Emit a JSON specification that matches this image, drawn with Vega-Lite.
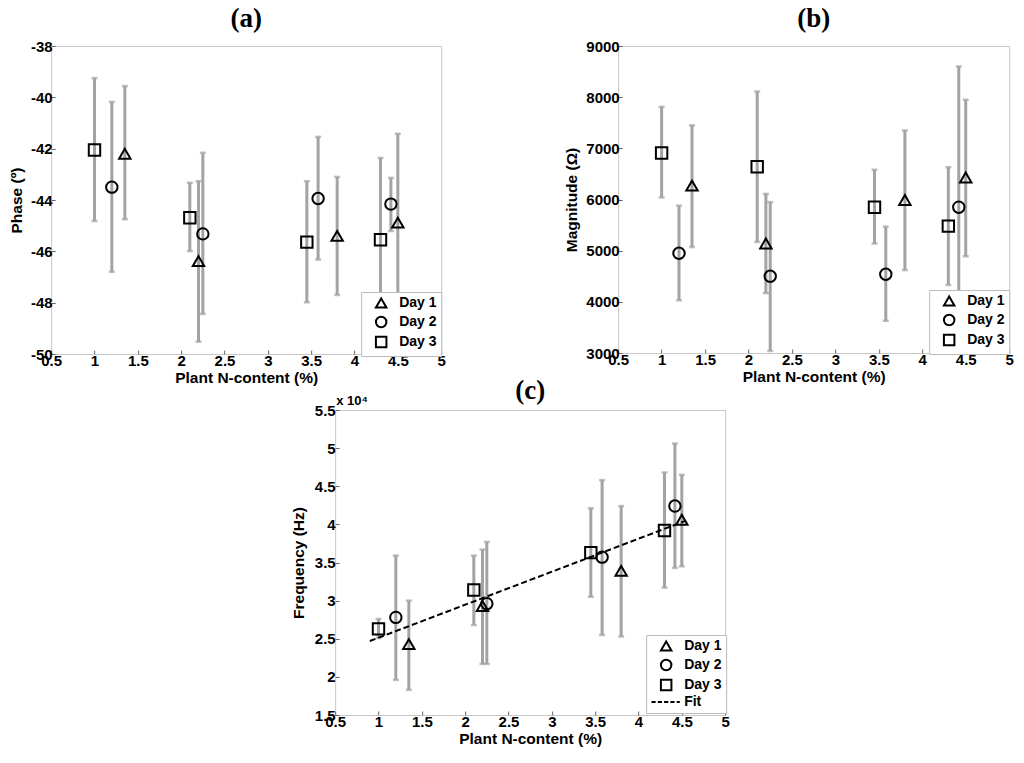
{
  "$schema": "https://vega.github.io/schema/vega-lite/v6.json",
  "background": "white",
  "padding": {"left": 8, "top": 4, "right": 5, "bottom": 5},
  "datasets": {
    "phase": [
      {"day": "Day 3", "n": 1.0, "v": -42.05, "lo": -44.82, "hi": -39.25},
      {"day": "Day 3", "n": 2.1, "v": -44.69, "lo": -45.99, "hi": -43.33},
      {"day": "Day 3", "n": 3.45, "v": -45.64, "lo": -47.98, "hi": -43.27},
      {"day": "Day 3", "n": 4.3, "v": -45.55, "lo": -48.74, "hi": -42.36},
      {"day": "Day 2", "n": 1.2, "v": -43.5, "lo": -46.8, "hi": -40.18},
      {"day": "Day 2", "n": 2.25, "v": -45.32, "lo": -48.44, "hi": -42.16},
      {"day": "Day 2", "n": 3.58, "v": -43.94, "lo": -46.32, "hi": -41.54},
      {"day": "Day 2", "n": 4.42, "v": -44.16, "lo": -45.21, "hi": -43.14},
      {"day": "Day 1", "n": 1.35, "v": -42.2, "lo": -44.75, "hi": -39.56},
      {"day": "Day 1", "n": 2.2, "v": -46.38, "lo": -49.52, "hi": -43.27},
      {"day": "Day 1", "n": 3.8, "v": -45.4, "lo": -47.7, "hi": -43.1},
      {"day": "Day 1", "n": 4.5, "v": -44.88, "lo": -48.34, "hi": -41.42}
    ],
    "magnitude": [
      {"day": "Day 3", "n": 1.0, "v": 6910, "lo": 6040, "hi": 7810},
      {"day": "Day 3", "n": 2.1, "v": 6640, "lo": 5170, "hi": 8110},
      {"day": "Day 3", "n": 3.45, "v": 5850, "lo": 5140, "hi": 6580},
      {"day": "Day 3", "n": 4.3, "v": 5480, "lo": 4330, "hi": 6630},
      {"day": "Day 2", "n": 1.2, "v": 4950, "lo": 4030, "hi": 5880},
      {"day": "Day 2", "n": 2.25, "v": 4500, "lo": 3040, "hi": 5950},
      {"day": "Day 2", "n": 3.58, "v": 4540, "lo": 3630, "hi": 5470},
      {"day": "Day 2", "n": 4.42, "v": 5850, "lo": 3100, "hi": 8600},
      {"day": "Day 1", "n": 1.35, "v": 6270, "lo": 5070, "hi": 7450},
      {"day": "Day 1", "n": 2.2, "v": 5140, "lo": 4170, "hi": 6110},
      {"day": "Day 1", "n": 3.8, "v": 5990, "lo": 4620, "hi": 7350},
      {"day": "Day 1", "n": 4.5, "v": 6430, "lo": 4890, "hi": 7950}
    ],
    "frequency": [
      {"day": "Day 3", "n": 1.0, "v": 26300, "lo": 25100, "hi": 27600},
      {"day": "Day 3", "n": 2.1, "v": 31400, "lo": 26800, "hi": 35900},
      {"day": "Day 3", "n": 3.45, "v": 36300, "lo": 30500, "hi": 42100},
      {"day": "Day 3", "n": 4.3, "v": 39200, "lo": 31700, "hi": 46800},
      {"day": "Day 2", "n": 1.2, "v": 27800, "lo": 19600, "hi": 35900},
      {"day": "Day 2", "n": 2.25, "v": 29600, "lo": 21700, "hi": 37700},
      {"day": "Day 2", "n": 3.58, "v": 35700, "lo": 25500, "hi": 45800},
      {"day": "Day 2", "n": 4.42, "v": 42400, "lo": 34300, "hi": 50600},
      {"day": "Day 1", "n": 1.35, "v": 24300, "lo": 18300, "hi": 30000},
      {"day": "Day 1", "n": 2.2, "v": 29300, "lo": 21700, "hi": 36700},
      {"day": "Day 1", "n": 3.8, "v": 33900, "lo": 25300, "hi": 42400},
      {"day": "Day 1", "n": 4.5, "v": 40600, "lo": 34500, "hi": 46500}
    ],
    "fit": [
      {"n": 0.9, "v": 24700},
      {"n": 4.55, "v": 40500}
    ],
    "note": [
      {"label": "x 10⁴", "n": 0.5, "v": 55000}
    ]
  },
  "config": {
    "view": {"stroke": "#c8c8c8", "strokeWidth": 1},
    "axis": {
      "grid": false,
      "domain": false,
      "tickSize": -4,
      "tickColor": "#666",
      "tickWidth": 1,
      "labelFont": "Liberation Sans",
      "labelFontWeight": "bold",
      "labelFontSize": 15,
      "labelColor": "black",
      "labelPadding": 3,
      "labelFlush": false,
      "labelOverlap": false,
      "labelExpr": "replace(format(datum.value, '~g'), '−', '-')",
      "titleFont": "Liberation Sans",
      "titleFontWeight": "bold",
      "titleFontSize": 15.5,
      "titleColor": "black"
    },
    "legend": {
      "orient": "none",
      "fillColor": "white",
      "strokeColor": "#bbbbbb",
      "padding": 4,
      "labelFont": "Liberation Sans",
      "labelFontWeight": "bold",
      "labelFontSize": 14,
      "labelColor": "black",
      "labelOffset": 11,
      "rowPadding": 0,
      "symbolSize": 110,
      "symbolStrokeColor": "black",
      "symbolStrokeWidth": 2,
      "symbolFillColor": "transparent",
      "symbolOffset": 9
    },
    "title": {
      "font": "Liberation Serif",
      "fontSize": 27,
      "fontWeight": "bold",
      "color": "black",
      "anchor": "middle",
      "offset": 6
    }
  },
  "vconcat": [
    {
      "hconcat": [
        {
          "title": "(a)",
          "width": 390,
          "height": 308,
          "data": {"name": "phase"},
          "encoding": {
            "x": {"field": "n", "type": "quantitative", "title": "Plant N-content (%)",
              "scale": {"domain": [0.5, 5], "nice": false},
              "axis": {"values": [0.5, 1, 1.5, 2, 2.5, 3, 3.5, 4, 4.5, 5], "titlePadding": 2}},
            "y": {"field": "lo", "type": "quantitative", "title": "Phase (º)",
              "scale": {"domain": [-50, -38], "nice": false},
              "axis": {"values": [-50, -48, -46, -44, -42, -40, -38], "titlePadding": 6}}
          },
          "layer": [
            {
              "mark": {"type": "rule", "color": "#a3a3a3", "strokeWidth": 3},
              "encoding": {"y2": {"field": "hi"}}
            },
            {
              "mark": {"type": "tick", "orient": "horizontal", "color": "#a3a3a3", "size": 6, "thickness": 2.5},
              "encoding": {}
            },
            {
              "mark": {"type": "tick", "orient": "horizontal", "color": "#a3a3a3", "size": 6, "thickness": 2.5},
              "encoding": {"y": {"field": "hi", "type": "quantitative"}}
            },
            {
              "mark": {"type": "point", "filled": false, "stroke": "black", "strokeWidth": 2, "size": 130, "opacity": 1},
              "encoding": {
                "y": {"field": "v", "type": "quantitative"},
                "shape": {"field": "day", "type": "nominal",
                  "scale": {"domain": ["Day 1", "Day 2", "Day 3"], "range": ["triangle-up", "circle", "square"]},
                  "legend": {"title": null, "legendX": 310, "legendY": 246}}
              }
            }
          ]
        },
        {
          "title": "(b)",
          "width": 391,
          "height": 307,
          "data": {"name": "magnitude"},
          "encoding": {
            "x": {"field": "n", "type": "quantitative", "title": "Plant N-content (%)",
              "scale": {"domain": [0.5, 5], "nice": false},
              "axis": {"values": [0.5, 1, 1.5, 2, 2.5, 3, 3.5, 4, 4.5, 5], "titlePadding": 2}},
            "y": {"field": "lo", "type": "quantitative", "title": "Magnitude (Ω)",
              "scale": {"domain": [3000, 9000], "nice": false},
              "axis": {"values": [3000, 4000, 5000, 6000, 7000, 8000, 9000], "labelExpr": "format(datum.value, 'd')", "titlePadding": 6}}
          },
          "layer": [
            {
              "mark": {"type": "rule", "color": "#a3a3a3", "strokeWidth": 3},
              "encoding": {"y2": {"field": "hi"}}
            },
            {
              "mark": {"type": "tick", "orient": "horizontal", "color": "#a3a3a3", "size": 6, "thickness": 2.5},
              "encoding": {}
            },
            {
              "mark": {"type": "tick", "orient": "horizontal", "color": "#a3a3a3", "size": 6, "thickness": 2.5},
              "encoding": {"y": {"field": "hi", "type": "quantitative"}}
            },
            {
              "mark": {"type": "point", "filled": false, "stroke": "black", "strokeWidth": 2, "size": 130, "opacity": 1},
              "encoding": {
                "y": {"field": "v", "type": "quantitative"},
                "shape": {"field": "day", "type": "nominal",
                  "scale": {"domain": ["Day 1", "Day 2", "Day 3"], "range": ["triangle-up", "circle", "square"]},
                  "legend": {"title": null, "legendX": 311, "legendY": 244}}
              }
            }
          ]
        }
      ],
      "spacing": 118,
      "resolve": {"scale": {"shape": "independent"}, "legend": {"shape": "independent"}}
    },
    {
      "title": {"text": "(c)", "offset": -10},
      "width": 390,
      "height": 305,
      "encoding": {
        "x": {"field": "n", "type": "quantitative", "title": "Plant N-content (%)",
          "scale": {"domain": [0.5, 5], "nice": false},
          "axis": {"values": [0.5, 1, 1.5, 2, 2.5, 3, 3.5, 4, 4.5, 5], "titlePadding": 2}},
        "y": {"field": "lo", "type": "quantitative", "title": "Frequency (Hz)",
          "scale": {"domain": [15000, 55000], "nice": false},
          "axis": {"values": [15000, 20000, 25000, 30000, 35000, 40000, 45000, 50000, 55000],
            "labelExpr": "datum.value % 10000 == 0 ? format(datum.value / 10000, 'd') : format(datum.value / 10000, '.1f')",
            "labelOverlap": false, "labelPadding": 4, "titlePadding": 8}}
      },
      "layer": [
        {
          "data": {"name": "frequency"},
          "mark": {"type": "rule", "color": "#a3a3a3", "strokeWidth": 3},
          "encoding": {"y2": {"field": "hi"}}
        },
        {
          "data": {"name": "frequency"},
          "mark": {"type": "tick", "orient": "horizontal", "color": "#a3a3a3", "size": 6, "thickness": 2.5},
          "encoding": {}
        },
        {
          "data": {"name": "frequency"},
          "mark": {"type": "tick", "orient": "horizontal", "color": "#a3a3a3", "size": 6, "thickness": 2.5},
          "encoding": {"y": {"field": "hi", "type": "quantitative"}}
        },
        {
          "data": {"name": "fit"},
          "mark": {"type": "line", "color": "black", "strokeWidth": 2, "strokeDash": [6, 3]},
          "encoding": {"y": {"field": "v", "type": "quantitative"}}
        },
        {
          "data": {"name": "frequency"},
          "mark": {"type": "point", "filled": false, "stroke": "black", "strokeWidth": 2, "size": 130, "opacity": 1},
          "encoding": {
            "y": {"field": "v", "type": "quantitative"},
            "shape": {"field": "day", "type": "nominal",
              "scale": {"domain": ["Day 1", "Day 2", "Day 3", "Fit"],
                "range": ["triangle-up", "circle", "square", "M-2.8,0H-2M-1.6,0H-0.8M-0.4,0H0.4M0.8,0H1.6M2,0H2.6"]},
              "legend": {"title": null, "legendX": 311, "legendY": 225}}
          }
        },
        {
          "data": {"name": "note"},
          "mark": {"type": "text", "align": "left", "baseline": "bottom", "dx": 1, "dy": -2,
            "font": "Liberation Sans", "fontWeight": "bold", "fontSize": 13, "color": "black"},
          "encoding": {
            "y": {"field": "v", "type": "quantitative"},
            "text": {"field": "label"}
          }
        }
      ]
    }
  ],
  "spacing": -10,
  "center": true,
  "resolve": {"scale": {"shape": "independent"}, "legend": {"shape": "independent"}}
}
